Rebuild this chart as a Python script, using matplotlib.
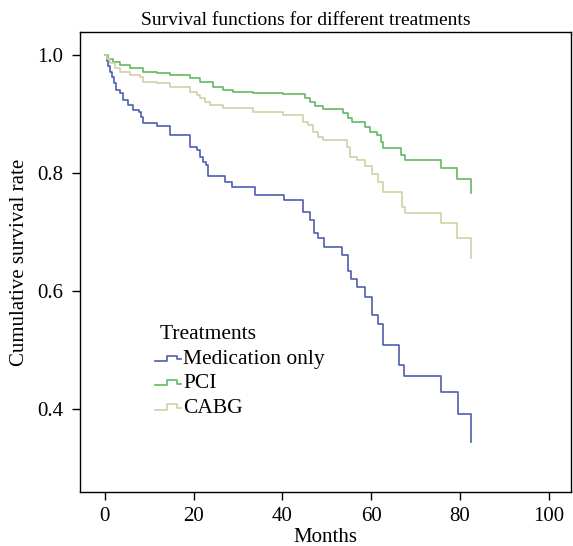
import matplotlib
matplotlib.use('Agg')
from matplotlib import pyplot as plt
from matplotlib.lines import Line2D
from matplotlib.legend_handler import HandlerBase

# Kaplan-Meier step points (month, survival after drop)
med_t = [0, 0.4, 0.8, 1.2, 1.6, 2.0, 2.5, 3.4, 4.1, 5.2, 6.3, 7.7, 8.2, 8.6,
         11.7, 14.6, 19.1, 20.7, 21.4, 22.1, 22.7, 23.2, 27.0, 28.6, 33.8,
         40.3, 44.6, 46.2, 47.1, 48.0, 49.3, 53.4, 54.7, 55.4, 56.8, 58.6,
         60.1, 61.5, 62.6, 66.2, 67.3, 75.7, 79.5, 82.4]
med_s = [1.0, 0.990, 0.981, 0.972, 0.962, 0.952, 0.941, 0.936, 0.924, 0.915,
         0.907, 0.903, 0.895, 0.885, 0.880, 0.864, 0.844, 0.839, 0.827, 0.819,
         0.814, 0.795, 0.785, 0.776, 0.763, 0.754, 0.734, 0.720, 0.698, 0.690,
         0.675, 0.661, 0.634, 0.620, 0.607, 0.590, 0.559, 0.544, 0.508, 0.475,
         0.456, 0.429, 0.392, 0.344]

pci_t = [0, 0.8, 1.8, 3.4, 5.6, 8.6, 11.7, 14.6, 19.1, 21.4, 24.3, 26.6, 28.8,
         33.3, 40.1, 45.0, 46.2, 47.3, 49.1, 53.6, 54.7, 55.6, 58.6, 59.7, 61.3,
         62.2, 62.6, 66.7, 67.6, 75.7, 79.3, 82.4]
pci_s = [1.0, 0.993, 0.988, 0.983, 0.978, 0.971, 0.969, 0.966, 0.961, 0.954,
         0.946, 0.941, 0.937, 0.936, 0.934, 0.927, 0.920, 0.914, 0.908, 0.902,
         0.893, 0.886, 0.878, 0.869, 0.864, 0.852, 0.842, 0.831, 0.822, 0.808,
         0.790, 0.766]

cabg_t = [0, 0.5, 1.1, 2.3, 3.4, 5.6, 7.9, 8.6, 11.7, 14.6, 19.1, 20.7, 21.4,
          22.5, 23.6, 26.6, 33.3, 40.1, 44.6, 45.7, 46.8, 48.0, 49.1, 54.5,
          55.2, 56.8, 58.6, 60.1, 61.5, 62.6, 66.9, 67.6, 75.7, 79.3, 82.4]
cabg_s = [1.0, 0.993, 0.986, 0.978, 0.971, 0.966, 0.963, 0.954, 0.953, 0.946,
          0.937, 0.932, 0.927, 0.920, 0.915, 0.910, 0.903, 0.898, 0.886, 0.881,
          0.869, 0.861, 0.856, 0.844, 0.827, 0.822, 0.812, 0.798, 0.785, 0.768,
          0.742, 0.732, 0.715, 0.690, 0.656]

names = ['Medication only', 'PCI', 'CABG']
colors = ['#4d5fb0', '#62b862', '#d3d0a6']


class StepHandler(HandlerBase):
    # little step-shaped legend key like the SPSS output
    def create_artists(self, legend, orig_handle, xdescent, ydescent,
                       width, height, fontsize, trans):
        y0 = height * 0.2
        y1 = height * 0.55
        xs = [0, width * 0.45, width * 0.45, width * 0.85, width * 0.85, width]
        ys = [y0, y0, y1, y1, y0 + 0.1 * height, y0 + 0.1 * height]
        ln = Line2D(xs, ys, color=orig_handle.get_color(), lw=1.2,
                    transform=trans)
        return [ln]


def main():
    plt.rcParams['font.family'] = ['Liberation Serif', 'DejaVu Serif']
    fig = plt.figure(figsize=(5.73, 5.46), dpi=100)
    ax = fig.add_axes([0.1396, 0.0989, 0.857, 0.8425])

    lines = []
    for t, s, c, n in zip([med_t, pci_t, cabg_t], [med_s, pci_s, cabg_s],
                          colors, names):
        ln, = ax.step(t, s, where='post', color=c, lw=1.2, label=n)
        lines.append(ln)

    ax.set_xlim(-5.6, 105)
    ax.set_ylim(0.259, 1.039)
    ax.set_xticks([0, 20, 40, 60, 80, 100])
    ax.set_yticks([0.4, 0.6, 0.8, 1.0])
    ax.set_yticklabels(['0.4', '0.6', '0.8', '1.0'])
    ax.tick_params(direction='out', length=6, width=1, labelsize=15,
                   top=False, right=False)
    ax.tick_params(axis='x', pad=5)
    ax.tick_params(axis='y', pad=6)
    for sp in ax.spines.values():
        sp.set_linewidth(1)
        sp.set_color('black')

    ax.set_xlabel('Months', fontsize=15, labelpad=1)
    ax.set_ylabel('Cumulative survival rate', fontsize=15, labelpad=6)
    ax.set_title('Survival functions for different treatments', fontsize=14,
                 pad=5, x=0.46)

    ax.legend(handles=lines, title=' Treatments', loc='upper left',
              bbox_to_anchor=(0.153, 0.362), frameon=False, fontsize=15.5,
              title_fontsize=15.5, handlelength=1.2, handletextpad=0.1,
              labelspacing=0.2, borderpad=0, borderaxespad=0,
              alignment='left',
              handler_map={Line2D: StepHandler()})

    fig.savefig('out.png', dpi=100)


if __name__ == '__main__':
    main()
